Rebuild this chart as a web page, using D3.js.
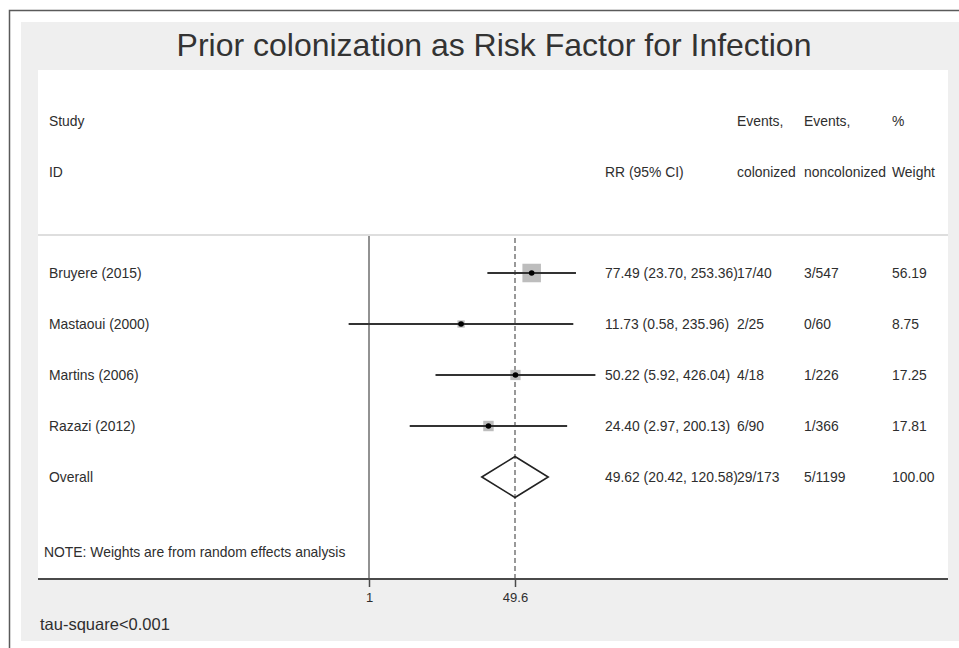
<!DOCTYPE html>
<html>
<head>
<meta charset="utf-8">
<script src="https://cdn.jsdelivr.net/npm/d3@7"></script>
<style>
  html, body { margin: 0; padding: 0; background: #fff; }
  svg { display: block; font-family: "Liberation Sans", Arial, Helvetica, sans-serif; }
</style>
</head>
<body>
<svg id="chart" width="959" height="648"></svg>
<script>
// Study-level results: risk ratio with 95% CI, event counts and random-effects weight
const studies = ["Bruyere (2015)", "Mastaoui (2000)", "Martins (2006)", "Razazi (2012)"];
const rr = [77.49, 11.73, 50.22, 24.40];
const lower = [23.70, 0.58, 5.92, 2.97];
const upper = [253.36, 235.96, 426.04, 200.13];
const eventsColonized = ["17/40", "2/25", "4/18", "6/90"];
const eventsNoncolonized = ["3/547", "0/60", "1/226", "1/366"];
const weights = [56.19, 8.75, 17.25, 17.81];

// Pooled estimate
const overallLabel = "Overall";
const overallRR = 49.62;
const overallLower = 20.42;
const overallUpper = 120.58;
const overallColonized = "29/173";
const overallNoncolonized = "5/1199";
const overallWeight = 100.00;

// Axis ticks: the null value and the pooled estimate
const tickValues = [1, 49.62];
const tickLabels = ["1", "49.6"];

const fmt2 = d3.format(".2f");

const svg = d3.select("#chart");
const W = 959, H = 648;

// Outer frame and grey graph region
svg.append("rect").attr("x", 9.5).attr("y", 10.5).attr("width", W + 10).attr("height", H + 10)
  .attr("fill", "#fff").attr("stroke", "#5a5a5a").attr("stroke-width", 1.5);
svg.append("rect").attr("x", 21).attr("y", 22).attr("width", W).attr("height", 619)
  .attr("fill", "#efefef");
// White plot region
const plot = { left: 38, right: 948, top: 70, bottom: 579 };
svg.append("rect").attr("x", plot.left).attr("y", plot.top)
  .attr("width", plot.right - plot.left).attr("height", plot.bottom - plot.top)
  .attr("fill", "#fff");

// Title
svg.append("text").attr("x", 494).attr("y", 56).attr("text-anchor", "middle")
  .attr("font-size", 32).attr("fill", "#333")
  .text("Prior colonization as Risk Factor for Infection");

// Log-scale effect axis, symmetric around the null
const xCenter = 369, xHalf = 226.4;
const x = d3.scaleLog().domain([1 / 426.04, 426.04]).range([xCenter - xHalf, xCenter + xHalf]);

// Row layout
const rowStep = 51;
const row0 = 273;
const rowY = i => row0 + i * rowStep;
const textFs = 13.9;
const baseOff = 5;

const cols = { label: 49, ci: 605, col: 737, non: 804, wt: 892 };

const textColor = "#2e2e2e";
function txt(xp, yp, s, fs) {
  return svg.append("text").attr("x", xp).attr("y", yp).attr("font-size", fs || textFs)
    .attr("fill", textColor).text(s);
}

// Header
txt(cols.label, rowY(-3) + baseOff + 1, "Study");
txt(cols.label, rowY(-2) + baseOff + 1, "ID");
txt(cols.ci, rowY(-2) + baseOff + 1, "RR (95% CI)");
txt(cols.col, rowY(-3) + baseOff + 1, "Events,");
txt(cols.col, rowY(-2) + baseOff + 1, "colonized");
txt(cols.non, rowY(-3) + baseOff + 1, "Events,");
txt(cols.non, rowY(-2) + baseOff + 1, "noncolonized");
txt(cols.wt, rowY(-3) + baseOff + 1, "%");
txt(cols.wt, rowY(-2) + baseOff + 1, "Weight");

// Header separator
svg.append("line").attr("x1", plot.left).attr("x2", plot.right).attr("y1", 235).attr("y2", 235)
  .attr("stroke", "#dedede").attr("stroke-width", 2);

// Null line and pooled-estimate line
svg.append("line").attr("x1", x(1)).attr("x2", x(1)).attr("y1", 236).attr("y2", plot.bottom)
  .attr("stroke", "#6e6e6e").attr("stroke-width", 1.5);
svg.append("line").attr("x1", x(overallRR)).attr("x2", x(overallRR)).attr("y1", 238).attr("y2", plot.bottom)
  .attr("stroke", "#555").attr("stroke-width", 1.2).attr("stroke-dasharray", "5,3");

// Weight boxes (area proportional to weight)
const side = d3.scaleSqrt().domain([0, 100]).range([0, 24.7]);
const rows = studies.map((s, i) => ({
  label: s, rr: rr[i], lo: lower[i], hi: upper[i],
  col: eventsColonized[i], non: eventsNoncolonized[i], w: weights[i], y: rowY(i)
}));

svg.append("g").selectAll("rect").data(rows).join("rect")
  .attr("x", d => x(d.rr) - side(d.w) / 2).attr("y", d => d.y - side(d.w) / 2)
  .attr("width", d => side(d.w)).attr("height", d => side(d.w))
  .attr("fill", "#bdbdbd");

// Confidence intervals
svg.append("g").selectAll("line").data(rows).join("line")
  .attr("x1", d => x(d.lo)).attr("x2", d => x(d.hi))
  .attr("y1", d => d.y).attr("y2", d => d.y)
  .attr("stroke", "#333").attr("stroke-width", 2);

// Point estimates
svg.append("g").selectAll("circle").data(rows).join("circle")
  .attr("cx", d => x(d.rr)).attr("cy", d => d.y).attr("r", 2.8)
  .attr("fill", "#000");

// Row text
rows.forEach(d => {
  txt(cols.label, d.y + baseOff, d.label);
  txt(cols.ci, d.y + baseOff, `${fmt2(d.rr)} (${fmt2(d.lo)}, ${fmt2(d.hi)})`);
  txt(cols.col, d.y + baseOff, d.col);
  txt(cols.non, d.y + baseOff, d.non);
  txt(cols.wt, d.y + baseOff, fmt2(d.w));
});

// Overall diamond
const oy = rowY(4);
const dh = 20.5;
svg.append("path")
  .attr("d", d3.line()([
    [x(overallLower), oy], [x(overallRR), oy - dh],
    [x(overallUpper), oy], [x(overallRR), oy + dh]
  ]) + "Z")
  .attr("fill", "none").attr("stroke", "#222").attr("stroke-width", 1.6)
  .attr("stroke-linejoin", "miter");

txt(cols.label, oy + baseOff, overallLabel);
txt(cols.ci, oy + baseOff, `${fmt2(overallRR)} (${fmt2(overallLower)}, ${fmt2(overallUpper)})`);
txt(cols.col, oy + baseOff, overallColonized);
txt(cols.non, oy + baseOff, overallNoncolonized);
txt(cols.wt, oy + baseOff, fmt2(overallWeight));

// Note
txt(44, 557, "NOTE: Weights are from random effects analysis");

// Bottom axis
svg.append("line").attr("x1", plot.left).attr("x2", plot.right)
  .attr("y1", plot.bottom).attr("y2", plot.bottom)
  .attr("stroke", "#4a4a4a").attr("stroke-width", 2);

const axis = d3.axisBottom(x).tickValues(tickValues)
  .tickFormat((d, i) => tickLabels[i]).tickSize(8).tickPadding(6);
const axisG = svg.append("g").attr("transform", `translate(0,${plot.bottom})`).call(axis);
axisG.select(".domain").remove();
axisG.selectAll(".tick line").attr("stroke", "#4a4a4a").attr("stroke-width", 1.5);
axisG.selectAll(".tick text").attr("font-size", 13).attr("fill", textColor)
  .attr("font-family", "Liberation Sans, Arial, sans-serif");

// Heterogeneity
txt(40, 630, "tau-square<0.001", 16.5);
</script>
</body>
</html>
